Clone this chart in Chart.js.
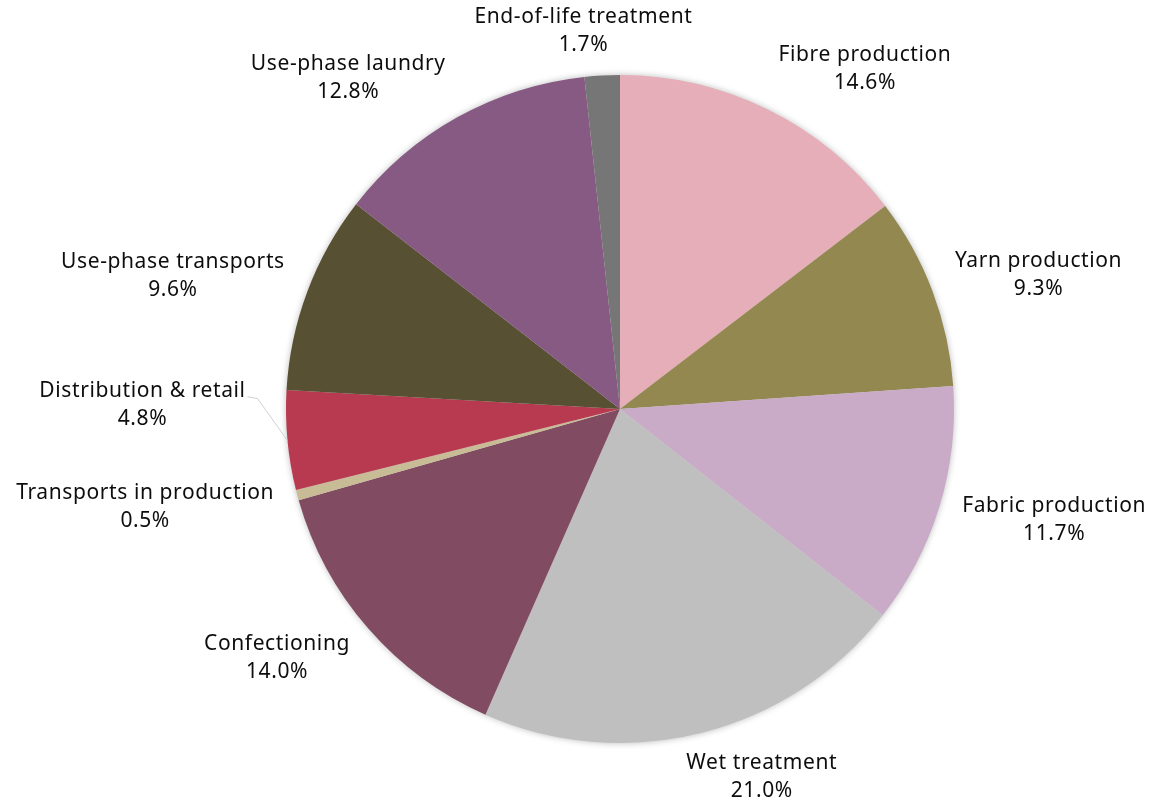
<!DOCTYPE html>
<html>
<head>
<meta charset="utf-8">
<script src="https://cdn.jsdelivr.net/npm/chart.js@4"></script>
<style>
  html, body { margin: 0; padding: 0; background: #fff; }
  #chart { display: block; }
</style>
</head>
<body>
<canvas id="chart" width="1155" height="801"></canvas>
<script>
const categories = [
  'Fibre production', 'Yarn production', 'Fabric production', 'Wet treatment',
  'Confectioning', 'Transports in production', 'Distribution & retail',
  'Use-phase transports', 'Use-phase laundry', 'End-of-life treatment'
];
const shares = [14.6, 9.3, 11.7, 21.0, 14.0, 0.5, 4.8, 9.6, 12.8, 1.7];
const colours = [
  '#e6aeb8', '#928850', '#c9abc7', '#bfbfbf', '#814b62',
  '#c8bc96', '#b83a50', '#585032', '#875a84', '#767676'
];

const FONT = '21px "Noto Sans"';

// little nudges where the labels were moved by hand (index: [dx, dy])
const nudges = { 6: [-18, -40] };

// soft shadow under the whole disc, not between slices
const shadowPlugin = {
  id: 'shadow',
  beforeDatasetDraw(chart) {
    const arc = chart.getDatasetMeta(0).data[0];
    if (!arc) return;
    const c = chart.ctx;
    c.save();
    c.shadowColor = 'rgba(0,0,0,0.3)';
    c.shadowBlur = 7;
    c.fillStyle = '#ddd';
    c.beginPath();
    c.arc(arc.x, arc.y, arc.outerRadius - 0.5, 0, Math.PI * 2);
    c.fill();
    c.restore();
  }
};

const labelPlugin = {
  id: 'outsideLabels',
  afterDraw(chart) {
    const c = chart.ctx;
    const meta = chart.getDatasetMeta(0);
    c.save();
    c.font = FONT;
    c.letterSpacing = '0.6px';
    c.fillStyle = '#0d0d0d';
    c.textAlign = 'center';
    c.textBaseline = 'middle';
    const lineH = 28;
    meta.data.forEach((arc, i) => {
      const p = arc.getProps(['x', 'y', 'startAngle', 'endAngle', 'outerRadius'], true);
      const a = (p.startAngle + p.endAngle) / 2;
      const dx = Math.cos(a), dy = Math.sin(a);
      const R = p.outerRadius + 24;
      const px = p.x + R * dx, py = p.y + R * dy;
      const l1 = categories[i];
      const l2 = shares[i].toFixed(1) + '%';
      const w = Math.max(c.measureText(l1).width, c.measureText(l2).width);
      const h = lineH * 2;
      const f = Math.max(-1, Math.min(1, dx * 3));
      let cx = px + f * w / 2;
      let cy = py + 0.75 * dy * h / 2;
      const n = nudges[i];
      if (n) {
        cx += n[0]; cy += n[1];
        // leader line from label to slice edge
        c.strokeStyle = '#d0d0d0';
        c.lineWidth = 1;
        c.beginPath();
        c.moveTo(cx + w / 2 + 2, cy - 8);
        c.lineTo(cx + w / 2 + 12, cy - 6);
        c.lineTo(p.x + p.outerRadius * dx, p.y + p.outerRadius * dy);
        c.stroke();
      }
      c.fillText(l1, cx, cy - lineH / 2);
      c.fillText(l2, cx, cy + lineH / 2);
    });
    c.restore();
  }
};

new Chart(document.getElementById('chart'), {
  type: 'pie',
  data: {
    labels: categories,
    datasets: [{
      data: shares,
      backgroundColor: colours,
      borderWidth: 0
    }]
  },
  options: {
    responsive: false,
    animation: false,
    layout: { padding: { left: 286, right: 201, top: 75, bottom: 58 } },
    plugins: {
      legend: { display: false },
      tooltip: { enabled: false }
    }
  },
  plugins: [shadowPlugin, labelPlugin]
});
</script>
</body>
</html>
